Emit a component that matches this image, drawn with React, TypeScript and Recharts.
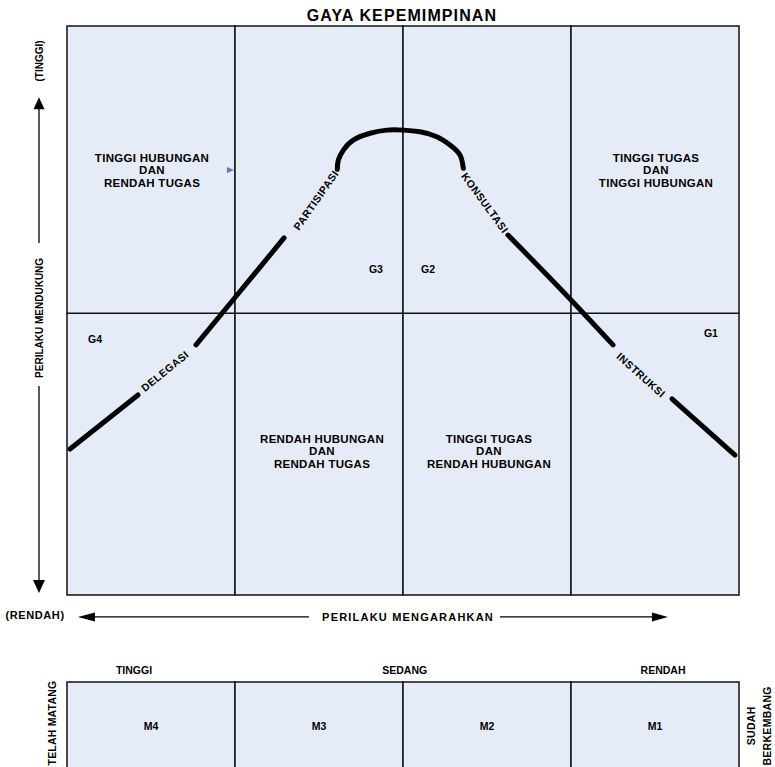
import React from 'react';
import {
  ComposedChart,
  XAxis,
  YAxis,
  Line,
  ReferenceArea,
  ReferenceLine,
  ReferenceDot,
} from 'recharts';

// ---------- data (directive behaviour on x: 0..4, supportive behaviour on y: 0..2) ----------
const COL_BOUNDS = [0, 1, 2, 3, 4];
const SUPPORT_BOUNDS = [0, 0.99, 2];
const MATURITY_BOUNDS = [-0.306, -0.66];

const TITLE = 'GAYA KEPEMIMPINAN';

const QUAD_X = [0.506, 3.506, 1.518, 2.512];
const QUAD_Y = [1.494, 1.494, 0.506, 0.506];
const QUAD_TEXT = [
  ['TINGGI HUBUNGAN', 'DAN', 'RENDAH TUGAS'],
  ['TINGGI TUGAS', 'DAN', 'TINGGI HUBUNGAN'],
  ['RENDAH HUBUNGAN', 'DAN', 'RENDAH TUGAS'],
  ['TINGGI TUGAS', 'DAN', 'RENDAH HUBUNGAN'],
];

const STYLE_CODES = ['G4', 'G3', 'G2', 'G1'];
const STYLE_CODE_X = [0.167, 1.839, 2.149, 3.833];
const STYLE_CODE_Y = [0.9, 1.146, 1.146, 0.921];

const CURVE_DELEGASI = [
  { x: 0.018, y: 0.513 },
  { x: 0.423, y: 0.703 },
];
const CURVE_PARTISIPASI = [
  { x: 0.768, y: 0.879 },
  { x: 0.988, y: 1.037 },
  { x: 1.292, y: 1.255 },
];
const CURVE_TOP = [
  { x: 1.609, y: 1.496 },
  { x: 1.615, y: 1.529 },
  { x: 1.645, y: 1.564 },
  { x: 1.704, y: 1.599 },
  { x: 1.804, y: 1.623 },
  { x: 1.903, y: 1.634 },
  { x: 2.002, y: 1.634 },
  { x: 2.101, y: 1.628 },
  { x: 2.201, y: 1.611 },
  { x: 2.28, y: 1.582 },
  { x: 2.339, y: 1.547 },
  { x: 2.359, y: 1.5 },
];
const CURVE_KONSULTASI = [
  { x: 2.625, y: 1.265 },
  { x: 3.0, y: 1.037 },
  { x: 3.25, y: 0.879 },
];
const CURVE_INSTRUKSI = [
  { x: 3.601, y: 0.689 },
  { x: 3.976, y: 0.492 },
];
const CURVES = [CURVE_DELEGASI, CURVE_PARTISIPASI, CURVE_TOP, CURVE_KONSULTASI, CURVE_INSTRUKSI];

const CURVE_LABELS = ['DELEGASI', 'PARTISIPASI', 'KONSULTASI', 'INSTRUKSI'];
const CURVE_LABEL_X = [0.583, 1.482, 2.488, 3.417];
const CURVE_LABEL_Y = [0.787, 1.388, 1.378, 0.773];
const CURVE_LABEL_ANGLE = [-39, -55, 54, 42];

const MATURITY_LEVELS = ['TINGGI', 'SEDANG', 'RENDAH'];
const MATURITY_LEVEL_X = [0.399, 2.01, 3.548];
const MATURITY_LEVEL_Y = -0.264;
const MATURITY_CODES = ['M4', 'M3', 'M2', 'M1'];
const MATURITY_CODE_Y = -0.46;

const SUPPORT_AXIS_X = -0.1667;
const SUPPORT_ARROW_UP = [1.237, 1.75];
const SUPPORT_ARROW_DOWN = [0.735, 0.007];
const DIRECT_AXIS_Y = -0.077;
const DIRECT_ARROW_LEFT = [1.44, 0.065];
const DIRECT_ARROW_RIGHT = [2.577, 3.577];

// ---------- styling helpers ----------
const FONT = '"Liberation Sans", Arial, Helvetica, sans-serif';
const CELL_FILL = '#E6ECF7';

const textShape =
  (lines: string[], size: number, angle = 0, spacing = 0, lh = 12.5) =>
  (p: any) => {
    const { cx, cy } = p;
    const n = lines.length;
    return (
      <g transform={`rotate(${angle} ${cx} ${cy})`}>
        <text
          textAnchor="middle"
          fontSize={size}
          fontWeight="bold"
          fontFamily={FONT}
          letterSpacing={spacing}
          fill="#000"
        >
          {lines.map((l, i) => (
            <tspan key={i} x={cx} y={cy + (i - (n - 1) / 2) * lh + size * 0.36}>
              {l}
            </tspan>
          ))}
        </text>
      </g>
    );
  };

const arrowHead =
  (dir: 'up' | 'down' | 'left' | 'right', len: number, half: number) =>
  (p: any) => {
    const { cx, cy } = p;
    let pts = '';
    if (dir === 'up') pts = `${cx},${cy} ${cx - half},${cy + len} ${cx + half},${cy + len}`;
    if (dir === 'down') pts = `${cx},${cy} ${cx - half},${cy - len} ${cx + half},${cy - len}`;
    if (dir === 'left') pts = `${cx},${cy} ${cx + len},${cy - half} ${cx + len},${cy + half}`;
    if (dir === 'right') pts = `${cx},${cy} ${cx - len},${cy - half} ${cx - len},${cy + half}`;
    return <polygon points={pts} fill="#000" />;
  };

const blueMarker = (p: any) => {
  const { cx, cy } = p;
  return <polygon points={`${cx + 4},${cy} ${cx - 3},${cy - 3} ${cx - 3},${cy + 3}`} fill="#4F81BD" />;
};

export default function App() {
  const cells: React.ReactNode[] = [];
  for (let i = 0; i < 4; i++) {
    for (let j = 0; j < 2; j++) {
      cells.push(
        <ReferenceArea
          key={`c${i}${j}`}
          x1={COL_BOUNDS[i]}
          x2={COL_BOUNDS[i + 1]}
          y1={SUPPORT_BOUNDS[j]}
          y2={SUPPORT_BOUNDS[j + 1]}
          fill={CELL_FILL}
          fillOpacity={1}
          stroke="#111"
          strokeWidth={1.5}
          ifOverflow="visible"
        />
      );
    }
    cells.push(
      <ReferenceArea
        key={`m${i}`}
        x1={COL_BOUNDS[i]}
        x2={COL_BOUNDS[i + 1]}
        y1={MATURITY_BOUNDS[0]}
        y2={MATURITY_BOUNDS[1]}
        fill={CELL_FILL}
        fillOpacity={1}
        stroke="#111"
        strokeWidth={1.5}
        ifOverflow="visible"
      />
    );
  }

  return (
    <div style={{ position: 'absolute', left: 0, top: 0, width: 775, height: 767, background: '#fff' }}>
      <ComposedChart width={775} height={767} margin={{ top: 26, right: 36, bottom: 172, left: 67 }}>
        <XAxis type="number" dataKey="x" domain={[0, 4]} hide />
        <YAxis type="number" dataKey="y" domain={[0, 2]} hide />
        {cells}

        {CURVES.map((d, i) => (
          <Line
            key={`curve${i}`}
            data={d}
            dataKey="y"
            type={d === CURVE_TOP ? 'natural' : 'monotone'}
            stroke="#000"
            strokeWidth={5}
            strokeLinecap="round"
            dot={false}
            activeDot={false}
            isAnimationActive={false}
          />
        ))}

        {CURVE_LABELS.map((t, i) => (
          <ReferenceDot
            key={`cl${i}`}
            x={CURVE_LABEL_X[i]}
            y={CURVE_LABEL_Y[i]}
            ifOverflow="visible"
            shape={textShape([t], 10.5, CURVE_LABEL_ANGLE[i], 0.5)}
          />
        ))}

        {QUAD_TEXT.map((lines, i) => (
          <ReferenceDot
            key={`q${i}`}
            x={QUAD_X[i]}
            y={QUAD_Y[i]}
            ifOverflow="visible"
            shape={textShape(lines, 11.5, 0, 0.3, 12.5)}
          />
        ))}

        {STYLE_CODES.map((t, i) => (
          <ReferenceDot
            key={`g${i}`}
            x={STYLE_CODE_X[i]}
            y={STYLE_CODE_Y[i]}
            ifOverflow="visible"
            shape={textShape([t], 10.5)}
          />
        ))}

        <ReferenceDot x={0.97} y={1.494} ifOverflow="visible" shape={blueMarker} />

        {/* title */}
        <ReferenceDot x={1.994} y={2.039} ifOverflow="visible" shape={textShape([TITLE], 16, 0, 1.1)} />

        {/* supportive behaviour axis */}
        <ReferenceLine
          segment={[
            { x: SUPPORT_AXIS_X, y: SUPPORT_ARROW_UP[0] },
            { x: SUPPORT_AXIS_X, y: SUPPORT_ARROW_UP[1] - 0.03 },
          ]}
          stroke="#000"
          strokeWidth={1.3}
          ifOverflow="visible"
        />
        <ReferenceDot x={SUPPORT_AXIS_X} y={SUPPORT_ARROW_UP[1]} ifOverflow="visible" shape={arrowHead('up', 12, 5.5)} />
        <ReferenceLine
          segment={[
            { x: SUPPORT_AXIS_X, y: SUPPORT_ARROW_DOWN[0] },
            { x: SUPPORT_AXIS_X, y: SUPPORT_ARROW_DOWN[1] + 0.03 },
          ]}
          stroke="#000"
          strokeWidth={1.3}
          ifOverflow="visible"
        />
        <ReferenceDot x={SUPPORT_AXIS_X} y={SUPPORT_ARROW_DOWN[1]} ifOverflow="visible" shape={arrowHead('down', 13, 6)} />
        <ReferenceDot x={SUPPORT_AXIS_X} y={1.877} ifOverflow="visible" shape={textShape(['(TINGGI)'], 10, -90)} />
        <ReferenceDot x={SUPPORT_AXIS_X} y={0.974} ifOverflow="visible" shape={textShape(['PERILAKU MENDUKUNG'], 10, -90)} />

        {/* directive behaviour axis */}
        <ReferenceLine
          segment={[
            { x: DIRECT_ARROW_LEFT[0], y: DIRECT_AXIS_Y },
            { x: DIRECT_ARROW_LEFT[1] + 0.08, y: DIRECT_AXIS_Y },
          ]}
          stroke="#000"
          strokeWidth={1.3}
          ifOverflow="visible"
        />
        <ReferenceDot x={DIRECT_ARROW_LEFT[1]} y={DIRECT_AXIS_Y} ifOverflow="visible" shape={arrowHead('left', 17, 4.5)} />
        <ReferenceLine
          segment={[
            { x: DIRECT_ARROW_RIGHT[0], y: DIRECT_AXIS_Y },
            { x: DIRECT_ARROW_RIGHT[1] - 0.08, y: DIRECT_AXIS_Y },
          ]}
          stroke="#000"
          strokeWidth={1.3}
          ifOverflow="visible"
        />
        <ReferenceDot x={DIRECT_ARROW_RIGHT[1]} y={DIRECT_AXIS_Y} ifOverflow="visible" shape={arrowHead('right', 16, 4.5)} />
        <ReferenceDot x={2.03} y={DIRECT_AXIS_Y} ifOverflow="visible" shape={textShape(['PERILAKU MENGARAHKAN'], 11, 0, 1.2)} />
        <ReferenceDot x={-0.19} y={-0.07} ifOverflow="visible" shape={textShape(['(RENDAH)'], 11, 0, 0.6)} />

        {/* maturity */}
        {MATURITY_LEVELS.map((t, i) => (
          <ReferenceDot
            key={`ml${i}`}
            x={MATURITY_LEVEL_X[i]}
            y={MATURITY_LEVEL_Y}
            ifOverflow="visible"
            shape={textShape([t], 10.5)}
          />
        ))}
        {MATURITY_CODES.map((t, i) => (
          <ReferenceDot
            key={`mc${i}`}
            x={(COL_BOUNDS[i] + COL_BOUNDS[i + 1]) / 2}
            y={MATURITY_CODE_Y}
            ifOverflow="visible"
            shape={textShape([t], 10.5)}
          />
        ))}
        <ReferenceDot x={-0.089} y={-0.45} ifOverflow="visible" shape={textShape(['TELAH MATANG'], 10.5, -90, 0.2)} />
        <ReferenceDot
          x={4.119}
          y={MATURITY_CODE_Y}
          ifOverflow="visible"
          shape={textShape(['SUDAH', 'BERKEMBANG'], 10.5, -90, 0.3, 16)}
        />
      </ComposedChart>
    </div>
  );
}
